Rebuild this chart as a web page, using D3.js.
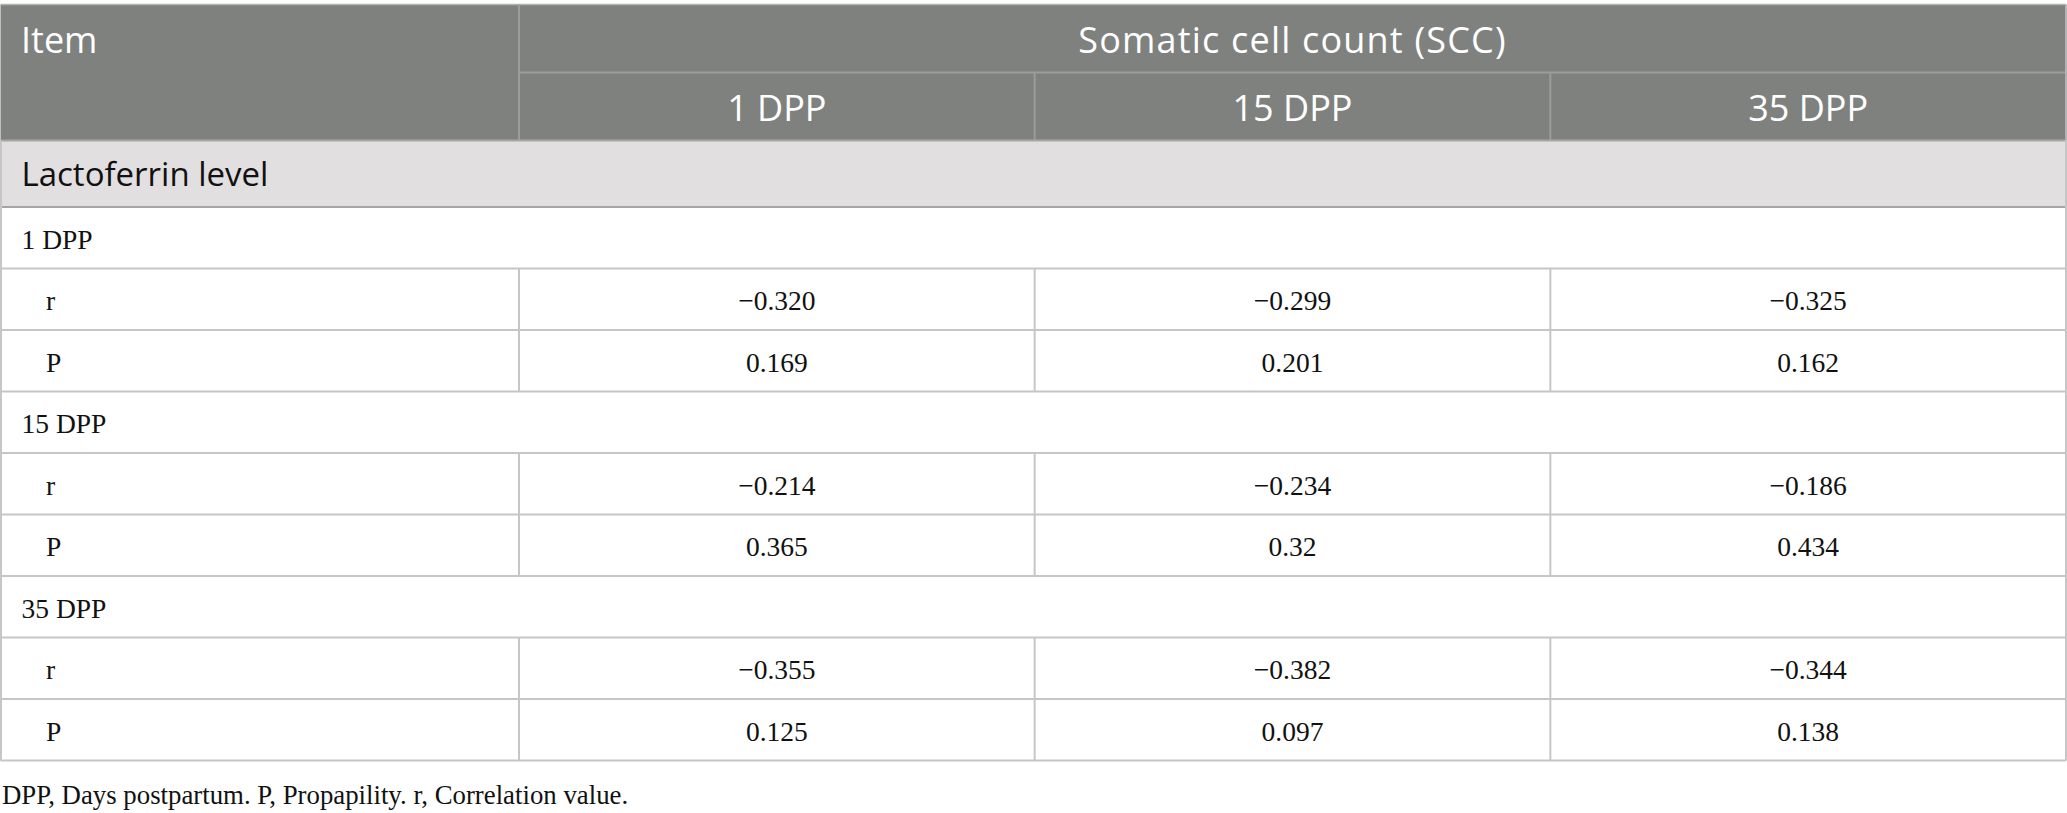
<!DOCTYPE html>
<html>
<head>
<meta charset="utf-8">
<script src="https://cdn.jsdelivr.net/npm/d3@7/dist/d3.min.js"></script>
<style>
  html, body { margin: 0; padding: 0; background: #fff; }
  svg { display: block; }
</style>
</head>
<body>
<svg id="table"></svg>
<script>
// 表格数据
const itemLabel = 'Item';
const spanLabel = 'Somatic cell count (SCC)';
const sectionLabel = 'Lactoferrin level';
const sccColumns = ['1 DPP', '15 DPP', '35 DPP'];
const lfGroups = ['1 DPP', '15 DPP', '35 DPP'];
const rValues = [
  [-0.320, -0.299, -0.325],
  [-0.214, -0.234, -0.186],
  [-0.355, -0.382, -0.344]
];
const pValues = [
  [0.169, 0.201, 0.162],
  [0.365, 0.32, 0.434],
  [0.125, 0.097, 0.138]
];
const footnote = 'DPP, Days postpartum. P, Propapility. r, Correlation value.';

// 画布尺寸
const width = 2067;
const height = 813;
const svg = d3.select('#table').attr('width', width).attr('height', height);

const sans = '"Open Sans", "Noto Sans", sans-serif';
const serif = '"Liberation Serif", "Times New Roman", serif';
const fmtR = d3.format('.3f');

// 列位置
const left = 0.5, right = 2066;
const firstColW = 519;
const x = d3.scaleBand().domain(sccColumns).range([firstColW, right]);

// 行位置
const headTop = 4.5, headMid = 72.5, headBottom = 140.5, sectionBottom = 207;
const bodyBottom = 760.5;
const bodyRows = [];
lfGroups.forEach((g, gi) => {
  bodyRows.push({ type: 'group', label: g, gi });
  bodyRows.push({ type: 'r', label: 'r', gi });
  bodyRows.push({ type: 'P', label: 'P', gi });
});
const y = d3.scaleBand().domain(d3.range(bodyRows.length)).range([sectionBottom, bodyBottom]);

// 表头背景
svg.append('rect')
  .attr('x', left).attr('y', headTop)
  .attr('width', right - left).attr('height', headBottom - headTop)
  .attr('fill', '#7f817f');

svg.append('line')
  .attr('x1', left).attr('x2', right).attr('y1', headTop).attr('y2', headTop)
  .attr('stroke', '#b3b3b3').attr('stroke-width', 1.5);

// 表头内部线
const headLine = '#9b9c9b';
svg.append('line')
  .attr('x1', firstColW).attr('x2', right).attr('y1', headMid).attr('y2', headMid)
  .attr('stroke', headLine).attr('stroke-width', 2);
svg.append('line')
  .attr('x1', firstColW).attr('x2', firstColW).attr('y1', headTop).attr('y2', headBottom)
  .attr('stroke', headLine).attr('stroke-width', 2);
svg.selectAll('.hdiv')
  .data(sccColumns.slice(1))
  .join('line')
  .attr('class', 'hdiv')
  .attr('x1', d => x(d)).attr('x2', d => x(d))
  .attr('y1', headMid).attr('y2', headBottom)
  .attr('stroke', headLine).attr('stroke-width', 2);

// 表头文字
const headText = sel => sel
  .attr('fill', '#fff').attr('font-family', sans)
  .attr('font-size', 36).attr('font-weight', 400);
svg.append('text')
  .attr('x', 21).attr('y', 52.5)
  .call(headText)
  .text(itemLabel);
svg.append('text')
  .attr('x', (firstColW + right) / 2).attr('y', 52.5)
  .attr('text-anchor', 'middle')
  .attr('letter-spacing', 1.2)
  .call(headText)
  .text(spanLabel);
svg.selectAll('.hcol')
  .data(sccColumns)
  .join('text')
  .attr('class', 'hcol')
  .attr('x', d => x(d) + x.bandwidth() / 2).attr('y', 120.5)
  .attr('text-anchor', 'middle')
  .call(headText)
  .text(d => d);

// 分组行 (Lactoferrin level)
svg.append('rect')
  .attr('x', left).attr('y', headBottom)
  .attr('width', right - left).attr('height', sectionBottom - headBottom)
  .attr('fill', '#e1dfe0');
svg.append('line')
  .attr('x1', left).attr('x2', right).attr('y1', headBottom).attr('y2', headBottom)
  .attr('stroke', '#a6a6a6').attr('stroke-width', 2);
svg.append('text')
  .attr('x', 21.5).attr('y', 185.5)
  .attr('fill', '#111').attr('font-family', sans).attr('font-size', 33)
  .text(sectionLabel);

// 表体
const lineColor = '#c6c6c6';
const rowG = svg.append('g').selectAll('g')
  .data(bodyRows)
  .join('g')
  .attr('transform', (d, i) => `translate(0,${y(i)})`);

// 行顶线
rowG.append('line')
  .attr('x1', left).attr('x2', right)
  .attr('y1', 0).attr('y2', 0)
  .attr('stroke', (d, i) => i === 0 ? '#a6a6a6' : lineColor)
  .attr('stroke-width', 2);

// 数值行的竖线
rowG.filter(d => d.type !== 'group')
  .selectAll('.vdiv')
  .data(sccColumns)
  .join('line')
  .attr('class', 'vdiv')
  .attr('x1', d => x(d)).attr('x2', d => x(d))
  .attr('y1', 0).attr('y2', y.bandwidth())
  .attr('stroke', lineColor).attr('stroke-width', 2);

// 行标签
rowG.append('text')
  .attr('x', d => d.type === 'group' ? 21.5 : 46)
  .attr('y', y.bandwidth() / 2 + 11)
  .attr('fill', '#111').attr('font-family', serif).attr('font-size', 27.5)
  .text(d => d.label);

// 数值
rowG.filter(d => d.type !== 'group')
  .selectAll('.val')
  .data(d => sccColumns.map((c, ci) => ({
    col: c,
    text: d.type === 'r' ? fmtR(rValues[d.gi][ci]) : String(pValues[d.gi][ci])
  })))
  .join('text')
  .attr('class', 'val')
  .attr('x', d => x(d.col) + x.bandwidth() / 2)
  .attr('y', y.bandwidth() / 2 + 11)
  .attr('text-anchor', 'middle')
  .attr('fill', '#111').attr('font-family', serif).attr('font-size', 27.5)
  .text(d => d.text);

// 表格底线和左右边框
svg.append('line')
  .attr('x1', left).attr('x2', right).attr('y1', bodyBottom).attr('y2', bodyBottom)
  .attr('stroke', lineColor).attr('stroke-width', 2);
[left + 0.5, right].forEach(xx => {
  svg.append('line')
    .attr('x1', xx).attr('x2', xx).attr('y1', headBottom).attr('y2', bodyBottom)
    .attr('stroke', lineColor).attr('stroke-width', 2);
});
svg.append('line')
  .attr('x1', right).attr('x2', right).attr('y1', headTop).attr('y2', headBottom)
  .attr('stroke', '#b3b3b3').attr('stroke-width', 2);

// 注释
svg.append('text')
  .attr('x', 2).attr('y', 804)
  .attr('fill', '#111').attr('font-family', serif).attr('font-size', 26.8)
  .text(footnote);
</script>
</body>
</html>
